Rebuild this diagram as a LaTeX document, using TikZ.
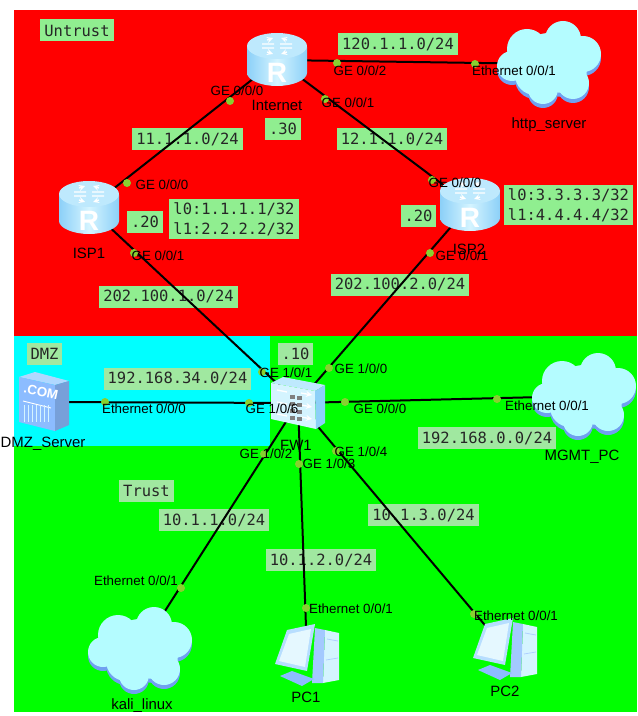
\documentclass[tikz,border=0pt]{standalone}
\usepackage{fontspec}
\setmainfont{Liberation Sans}
\newfontfamily\labelfont{DejaVu Sans Mono}
\definecolor{zonered}{HTML}{FF0000}
\definecolor{zonegreen}{HTML}{00FF00}
\definecolor{zonecyan}{HTML}{00FFFF}
\definecolor{labelgreen}{HTML}{90EE90}
\definecolor{labelpale}{HTML}{A0E8A0}
\definecolor{portgreen}{HTML}{88D030}
\definecolor{iconlight}{HTML}{D4F4FF}
\definecolor{iconmid}{HTML}{8CD0F8}
\definecolor{iconblue}{HTML}{8CBCFF}
\definecolor{cloudtop}{HTML}{B4FCFF}
\definecolor{cloudlow}{HTML}{70A0F0}
\tikzset{
  routericon/.pic={
    \path[left color=iconmid, right color=iconmid, middle color=iconlight]
      (-30,-13) -- (-30,13) .. controls (-30,20) and (-16,26) .. (0,26) .. controls (16,26) and (30,20) .. (30,13) -- (30,-13) -- cycle;
    \fill[iconlight!70!iconmid] (0,-14) ellipse [x radius=30, y radius=13];
    \foreach \sx/\sy in {1/1, 1/-1, -1/1, -1/-1}
      \draw[white, line width=1pt, -stealth] (3*\sx,-14+2*\sy) -- (15*\sx,-14+2*\sy) (10*\sx,-14+6*\sy) -- (4*\sx,-14+8*\sy);
    \node[white, font=\bfseries\fontsize{21}{21}\selectfont, inner sep=0pt] (letter) at (0,13) {R};
  },
  cloudicon/.pic={
    \foreach \cx/\cy/\cr in {14/-24/18, -22/-14/20, -37/3/15, 34/-9/18, 24/20/16, -6/26/15, 0/0/30, -14/12/20, 14/6/24}
      \fill[cloudlow] (\cx,\cy+3) circle [radius=\cr];
    \foreach \cx/\cy/\cr in {14/-24/18, -22/-14/20, -37/3/15, 34/-9/18, 24/20/16, -6/26/15, 0/0/30, -14/12/20, 14/6/24}
      \fill[cloudtop] (\cx,\cy-1) circle [radius=\cr];
  },
  pcicon/.pic={
    \fill[iconlight] (18,-25) -- (32,-22) -- (32,25) -- (16,28) -- cycle;
    \fill[iconblue!80!white] (8,-27) -- (18,-25) -- (16,28) -- (5,28) -- cycle;
    \fill[iconblue] (-27,21) -- (-15,16) -- (7,24) -- (-5,31) -- cycle;
    \fill[iconlight!60!iconblue] (-20,-25) -- (8,-31) -- (0,16) -- (-32,9) -- cycle;
    \fill[iconlight!60!white] (-18,-21) -- (4,-26) -- (-2,12) -- (-28,6) -- cycle;
    \draw[iconblue!70!white, line width=.6pt] (20,-16) -- (31,-14) (19,5) -- (31,3);
  },
  fwicon/.pic={
    \fill[iconlight!70!iconmid] (-27,-20) -- (-15,-26) -- (27,-18) -- (17,-12) -- cycle;
    \fill[iconlight] (-27,-20) -- (17,-12) -- (18,26) -- (-27,16) -- cycle;
    \fill[iconmid] (17,-12) -- (27,-18) -- (27,20) -- (18,26) -- cycle;
    \foreach \ay in {-7, 5, 17}
      \draw[white, line width=1pt, -stealth] (-21,\ay-6) -- (-11,\ay-4) (3,\ay-3) -- (14,\ay-1);
    \foreach \bx/\by in {-8/-8, -1/-7, -8/-1, -1/0, -8/6, -1/7, -8/13, -1/14}
      \fill[black!50] (\bx,\by) rectangle ++(5,4);
  },
  servericon/.pic={
    \fill[iconlight!50!iconblue] (-25,-25) -- (-9,-30) -- (25,-21) -- (11,-17) -- cycle;
    \fill[iconblue] (-25,-25) -- (11,-17) -- (11,29) -- (-25,20) -- cycle;
    \fill[iconblue!85!black] (11,-17) -- (25,-21) -- (25,23) -- (11,29) -- cycle;
    \draw[white, line width=.7pt] (-21,-1) -- (7,6);
    \foreach \sx in {-20,-16,...,6}
      \draw[iconlight, line width=.7pt] (\sx,3) -- (\sx,20);
    \node[white, font=\bfseries\fontsize{10}{10}\selectfont, inner sep=0pt, rotate=-12] (dotcom) at (-3,-10) {.COM};
  }
}
\begin{document}
\begin{tikzpicture}[
  x=0.75pt, y=-0.75pt,
  device/.style={inner sep=0pt, minimum size=1pt},
  zonelabel/.style={fill=labelgreen, inner sep=0pt, inner xsep=3pt, minimum height=16.5pt, font=\labelfont\fontsize{11.6}{15}\selectfont, text=black!85},
  palelabel/.style={zonelabel, fill=labelpale},
  port/.style={circle, fill=portgreen, inner sep=0pt, minimum size=6pt},
  portlabel/.style={inner sep=0pt, font=\fontsize{10}{10}\selectfont},
  devicelabel/.style={inner sep=0pt, font=\fontsize{11.2}{11.2}\selectfont},
  link/.style={draw, line width=1.5pt}
]
  \useasboundingbox (0,0) rectangle (637,716);
  \fill[zonered] (14,10) rectangle (637,336);
  \fill[zonegreen] (14,336) rectangle (637,712);
  \fill[zonecyan] (14,336) rectangle (270,446);

  \node[device] (internet) at (277,60) {};
  \node[device] (isp1) at (89,208) {};
  \node[device] (isp2) at (470,205) {};
  \node[device] (http) at (549,64) {};
  \node[device] (fw1) at (298,403) {};
  \node[device] (dmz) at (44,402) {};
  \node[device] (mgmt) at (584,396) {};
  \node[device] (kali) at (140,650) {};
  \node[device] (pc1) at (307,655) {};
  \node[device] (pc2) at (505,649) {};

  \node[zonelabel] (untrustzone) at (77,30.5) {Untrust};
  \node[palelabel] (dmzzone) at (44.5,354) {DMZ};
  \node[palelabel] (trustzone) at (146.5,490.5) {Trust};
  \node[zonelabel] (net11) at (187.5,139) {11.1.1.0/24};
  \node[zonelabel] (net12) at (392,139.5) {12.1.1.0/24};
  \node[zonelabel] (net120) at (398,44) {120.1.1.0/24};
  \node[zonelabel] (net2021) at (168.5,296.5) {202.100.1.0/24};
  \node[zonelabel] (net2022) at (400,284.5) {202.100.2.0/24};
  \node[palelabel] (net34) at (177.5,378.5) {192.168.34.0/24};
  \node[palelabel] (net0) at (487,438) {192.168.0.0/24};
  \node[palelabel] (net1) at (214,520) {10.1.1.0/24};
  \node[palelabel] (net2) at (321,560) {10.1.2.0/24};
  \node[palelabel] (net3) at (423.5,515) {10.1.3.0/24};
  \node[zonelabel] (host30) at (283,129) {.30};
  \node[zonelabel] (host20a) at (145,222) {.20};
  \node[zonelabel] (host20b) at (418.5,216) {.20};
  \node[palelabel] (host10) at (295.5,353.5) {.10};
  \node[zonelabel, align=left, minimum height=30pt] (loopa) at (234,219) {l0:1.1.1.1/32\\l1:2.2.2.2/32};
  \node[zonelabel, align=left, minimum height=30pt] (loopb) at (568.5,205.5) {l0:3.3.3.3/32\\l1:4.4.4.4/32};

  \draw[link] (isp1) -- (internet);
  \draw[link] (internet) -- (isp2);
  \draw[link] (internet) -- (http);
  \draw[link] (isp1) -- (fw1);
  \draw[link] (isp2) -- (fw1);
  \draw[link] (dmz) -- (fw1);
  \draw[link] (fw1) -- (mgmt);
  \draw[link] (fw1) -- (kali);
  \draw[link] (fw1) -- (pc1);
  \draw[link] (fw1) -- (pc2);

  \node[port] (p1) at (230,101) {};
  \node[port] (p2) at (127,183) {};
  \node[port] (p3) at (134,253) {};
  \node[port] (p4) at (337,63) {};
  \node[port] (p5) at (475,64) {};
  \node[port] (p6) at (325,99) {};
  \node[port] (p7) at (432,180) {};
  \node[port] (p8) at (430,253) {};
  \node[port] (p9) at (262,372) {};
  \node[port] (p10) at (329,368) {};
  \node[port] (p11) at (249,403) {};
  \node[port] (p12) at (105,402) {};
  \node[port] (p13) at (345,402) {};
  \node[port] (p14) at (497,399) {};
  \node[port] (p15) at (264,454) {};
  \node[port] (p16) at (299,464) {};
  \node[port] (p17) at (336,451) {};
  \node[port] (p18) at (181,588) {};
  \node[port] (p19) at (306,608) {};
  \node[port] (p20) at (474,614) {};

  \pic at (internet) {routericon};
  \pic at (isp1) {routericon};
  \pic at (isp2) {routericon};
  \pic at (http) {cloudicon};
  \pic at (mgmt) {cloudicon};
  \pic at (kali) {cloudicon};
  \pic at (pc1) {pcicon};
  \pic at (pc2) {pcicon};
  \pic at (fw1) {fwicon};
  \pic at (dmz) {servericon};

  \node[devicelabel] (internetname) at (277,105) {Internet};
  \node[devicelabel] (isp1name) at (89,253) {ISP1};
  \node[devicelabel] (isp2name) at (469,249) {ISP2};
  \node[devicelabel] (httpname) at (549,125) {http\_server};
  \node[devicelabel] (dmzname) at (43,444) {DMZ\_Server};
  \node[devicelabel] (fw1name) at (296,445) {FW1};
  \node[devicelabel] (mgmtname) at (582,457) {MGMT\_PC};
  \node[devicelabel] (kaliname) at (142,706) {kali\_linux};
  \node[devicelabel] (pc1name) at (306,697) {PC1};
  \node[devicelabel] (pc2name) at (505,691) {PC2};

  \node[portlabel] (t1) at (237,91) {GE 0/0/0};
  \node[portlabel] (t2) at (162,185) {GE 0/0/0};
  \node[portlabel] (t3) at (158,256) {GE 0/0/1};
  \node[portlabel] (t4) at (360,71) {GE 0/0/2};
  \node[portlabel] (t5) at (514,71) {Ethernet 0/0/1};
  \node[portlabel] (t6) at (348,103) {GE 0/0/1};
  \node[portlabel] (t7) at (455,183) {GE 0/0/0};
  \node[portlabel] (t8) at (462,256) {GE 0/0/1};
  \node[portlabel] (t9) at (286,373) {GE 1/0/1};
  \node[portlabel] (t10) at (361,369) {GE 1/0/0};
  \node[portlabel] (t11) at (272,409) {GE 1/0/6};
  \node[portlabel] (t12) at (144,409) {Ethernet 0/0/0};
  \node[portlabel] (t13) at (380,409) {GE 0/0/0};
  \node[portlabel] (t14) at (547,406) {Ethernet 0/0/1};
  \node[portlabel] (t15) at (266,454) {GE 1/0/2};
  \node[portlabel] (t16) at (329,464) {GE 1/0/3};
  \node[portlabel] (t17) at (361,452) {GE 1/0/4};
  \node[portlabel] (t18) at (136,581) {Ethernet 0/0/1};
  \node[portlabel] (t19) at (351,609) {Ethernet 0/0/1};
  \node[portlabel] (t20) at (516,616) {Ethernet 0/0/1};
\end{tikzpicture}
\end{document}
